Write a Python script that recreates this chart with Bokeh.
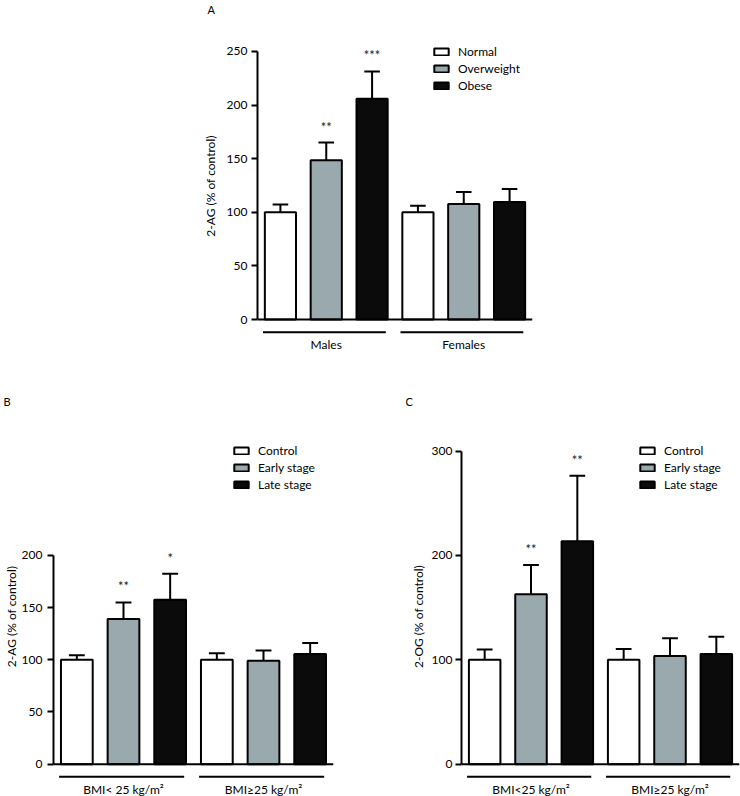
from bokeh.plotting import figure
from bokeh.layouts import column, row, Spacer
from bokeh.models import Span, FixedTicker, Legend, LegendItem
from bokeh.core.properties import value
from bokeh.embed import file_html
from bokeh.resources import INLINE

FONT = "Lato"
COLORS = ["#ffffff", "#9aa9ad", "#0b0b0b"]

# ---------------- Panel A data ----------------
a_groups = ["Males", "Females"]
a_series = ["Normal", "Overweight", "Obese"]
a_normal = [100.0, 100.0]
a_normal_err = [7.3, 6.0]
a_over = [148.6, 107.6]
a_over_err = [16.4, 11.4]
a_obese = [205.8, 109.5]
a_obese_err = [25.5, 12.1]
a_normal_sig = ["", ""]
a_over_sig = ["**", ""]
a_obese_sig = ["***", ""]
a_ticks = [0, 50, 100, 150, 200, 250]

# ---------------- Panel B data ----------------
b_groups = ["BMI< 25 kg/m\u00b2", "BMI\u226525 kg/m\u00b2"]
bc_series = ["Control", "Early stage", "Late stage"]
b_control = [100.0, 100.0]
b_control_err = [4.3, 6.2]
b_early = [139.0, 99.0]
b_early_err = [16.0, 10.0]
b_late = [157.6, 105.6]
b_late_err = [24.9, 10.4]
b_control_sig = ["", ""]
b_early_sig = ["**", ""]
b_late_sig = ["*", ""]
b_ticks = [0, 50, 100, 150, 200]

# ---------------- Panel C data ----------------
c_groups = ["BMI<25 kg/m\u00b2", "BMI\u226525 kg/m\u00b2"]
c_control = [100.0, 100.0]
c_control_err = [9.8, 10.4]
c_early = [162.8, 103.7]
c_early_err = [28.1, 16.9]
c_late = [213.5, 105.6]
c_late_err = [62.9, 16.6]
c_control_sig = ["", ""]
c_early_sig = ["**", ""]
c_late_sig = ["**", ""]
c_ticks = [0, 100, 200, 300]


def make_panel(letter, ylabel, groups, series, means, errs, sigs, ticks,
               y_range, frame_w, frame_h, borders, legend_loc,
               title_offset, title_standoff, tick_standoff, label_standoff,
               group_label_y):
    bl, br, bt, bb = borders
    p = figure(frame_width=frame_w, frame_height=frame_h,
               x_range=(-0.5, 5.5), y_range=y_range,
               output_backend="svg", toolbar_location=None,
               x_axis_location=None, title=letter,
               min_border_left=bl, min_border_right=br,
               min_border_top=bt, min_border_bottom=bb)
    p.grid.visible = False
    p.outline_line_color = None
    p.background_fill_color = "white"
    p.border_fill_color = "white"

    k = len(series)
    n = len(groups)
    items = []
    for i in range(k):
        xs = [g * k + i for g in range(n)]
        m = means[i]
        e = errs[i]
        tops = [mv + ev for mv, ev in zip(m, e)]
        p.segment(x0=xs, y0=m, x1=xs, y1=tops, line_color="black", line_width=2)
        p.segment(x0=[x - 0.17 for x in xs], y0=tops,
                  x1=[x + 0.17 for x in xs], y1=tops,
                  line_color="black", line_width=2)
        r = p.vbar(x=xs, top=m, bottom=0, width=0.68, fill_color=COLORS[i],
                   line_color="black", line_width=2)
        p.text(x=xs, y=tops, text=sigs[i], text_align="center",
               text_baseline="middle", y_offset=-16,
               text_font=value(FONT), text_font_size="13px", text_color="#222222")
        items.append(LegendItem(label=series[i], renderers=[r]))

    p.add_layout(Span(location=0, dimension="width", line_color="black", line_width=2))

    centers = [g * k + (k - 1) / 2 for g in range(n)]
    p.segment(x0=[c - 1.38 for c in centers], y0=[-12] * n,
              x1=[c + 1.3 for c in centers], y1=[-12] * n,
              line_color="black", line_width=2)
    p.text(x=centers, y=[group_label_y] * n, text=groups, text_align="center",
           text_baseline="middle", text_font=value(FONT), text_font_size="12px",
           text_color="black")

    ax = p.yaxis[0]
    ax.ticker = FixedTicker(ticks=ticks)
    ax.bounds = (0, ticks[-1])
    ax.axis_line_width = 2
    ax.axis_line_color = "black"
    ax.major_tick_line_width = 2
    ax.major_tick_line_color = "black"
    ax.major_tick_out = 6
    ax.major_tick_in = 0
    ax.minor_tick_line_color = None
    ax.major_label_text_font = FONT
    ax.major_label_text_font_size = "12px"
    ax.major_label_text_color = "black"
    ax.major_label_standoff = tick_standoff
    ax.axis_label = ylabel
    ax.axis_label_text_font = FONT
    ax.axis_label_text_font_size = "12px"
    ax.axis_label_text_font_style = "normal"
    ax.axis_label_text_color = "black"
    ax.axis_label_standoff = label_standoff

    legend = Legend(items=items, location=legend_loc, border_line_color=None,
                    background_fill_alpha=0, padding=0, margin=0, spacing=2,
                    glyph_width=18, glyph_height=9, label_height=12,
                    label_standoff=8, label_text_font=FONT,
                    label_text_font_size="12px", label_text_color="black")
    p.add_layout(legend)

    p.title.align = "left"
    p.title.offset = title_offset
    p.title.standoff = title_standoff
    p.title.vertical_align = "bottom"
    p.title.text_font = FONT
    p.title.text_font_size = "11px"
    p.title.text_font_style = "normal"
    p.title.text_color = "black"
    return p


pA = make_panel("A", "2-AG (% of control)", a_groups, a_series,
                [a_normal, a_over, a_obese],
                [a_normal_err, a_over_err, a_obese_err],
                [a_normal_sig, a_over_sig, a_obese_sig], a_ticks,
                (-34.5, 283.5), 275, 341, (67, 18, 15, 4), (175, 263),
                -50, 0, 4, 6, -23)

pB = make_panel("B", "2-AG (% of control)", b_groups, bc_series,
                [b_control, b_early, b_late],
                [b_control_err, b_early_err, b_late_err],
                [b_control_sig, b_early_sig, b_late_sig], b_ticks,
                (-31, 314), 280, 360, (53, 73, 76, 0), (179, 304),
                -50, 58, 5, 0, -24)

pC = make_panel("C", "2-OG (% of control)", c_groups, bc_series,
                [c_control, c_early, c_late],
                [c_control_err, c_early_err, c_late_err],
                [c_control_sig, c_early_sig, c_late_sig], c_ticks,
                (-31, 314), 278, 360, (55, 1, 76, 0), (177, 304),
                -56, 58, 3, 3, -24)

layout = column(row(Spacer(width=190, height=360), pA), row(pB, pC))

with open("out.html", "w") as f:
    f.write(file_html(layout, INLINE))
